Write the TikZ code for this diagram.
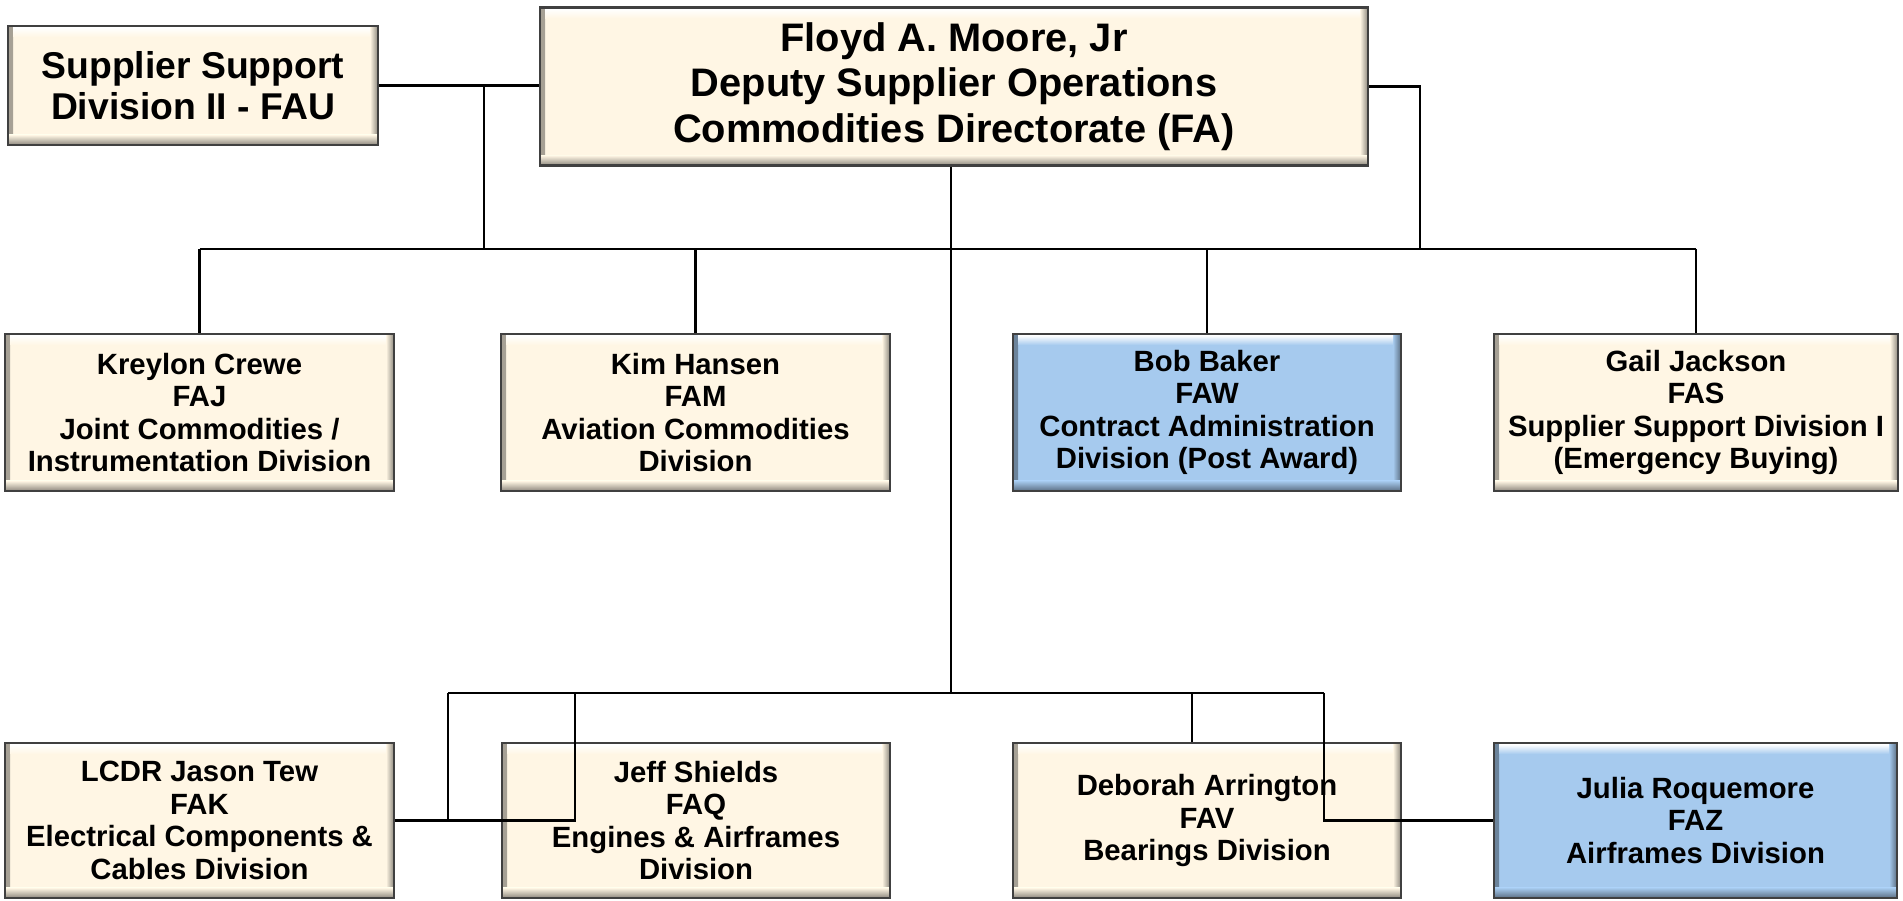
\documentclass[tikz,border=0pt]{standalone}
\usepackage{fontspec}
\setmainfont{Liberation Sans}
\usetikzlibrary{calc}
\definecolor{creamc}{HTML}{FFF6E4}
\definecolor{bluec}{HTML}{A6CAEE}
\definecolor{bdr}{HTML}{404040}
\tikzset{
  orgbox/.style={rectangle, inner sep=0pt, align=center, draw=bdr, line width=2.6pt, fill=#1,
    font=\bfseries\fontsize{29.3}{32.5}\selectfont,
    path picture={
      \shade[left color=#1!65!black, right color=#1]
        (path picture bounding box.south west) rectangle ($(path picture bounding box.north west)+(5pt,0pt)$);
      \shade[left color=#1, right color=#1!55!black]
        ($(path picture bounding box.south east)+(-8pt,0pt)$) rectangle (path picture bounding box.north east);
      \shade[top color=white, bottom color=#1]
        ($(path picture bounding box.north west)+(5pt,-1.5pt)$) rectangle ($(path picture bounding box.north east)+(-8pt,-11pt)$);
      \shade[top color=#1, bottom color=#1!55!black]
        ($(path picture bounding box.south west)+(0pt,10pt)$) rectangle (path picture bounding box.south east);
    }},
  conn/.style={line width=2.1pt, black},
  busline/.style={line width=2.8pt, black},
}
\begin{document}
\begin{tikzpicture}[x=1pt, y=1pt]
\useasboundingbox (0,0) rectangle (1903,901);
% top row
\node[orgbox=creamc, minimum width=828pt, minimum height=158pt,
      font=\bfseries\fontsize{39.8}{45.5}\selectfont] (top) at (954,814.5)
  {Floyd A. Moore, Jr\\Deputy Supplier Operations\\Commodities Directorate (FA)};
\node[orgbox=creamc, minimum width=370pt, minimum height=119pt,
      font=\bfseries\fontsize{37.3}{40.5}\selectfont] (ssd) at (193,815.5)
  {Supplier Support\\Division II - FAU};
% second row
\node[orgbox=creamc, minimum width=389pt, minimum height=157pt] (kc) at (199.5,488.5)
  {Kreylon Crewe\\FAJ\\Joint Commodities /\\Instrumentation Division};
\node[orgbox=creamc, minimum width=389pt, minimum height=157pt] (kh) at (695.5,488.5)
  {Kim Hansen\\FAM\\Aviation Commodities\\Division};
\node[orgbox=bluec, minimum width=388pt, minimum height=157pt] (bb) at (1207,488.5)
  {Bob Baker\\FAW\\Contract Administration\\Division (Post Award)};
\node[orgbox=creamc, minimum width=404pt, minimum height=157pt] (gj) at (1696,488.5)
  {Gail Jackson\\FAS\\Supplier Support Division I\\(Emergency Buying)};
% third row
\node[orgbox=creamc, minimum width=389pt, minimum height=155pt] (lt) at (199.5,80.5)
  {LCDR Jason Tew\\FAK\\Electrical Components \&\\Cables Division};
\node[orgbox=creamc, minimum width=388pt, minimum height=155pt] (js) at (696,80.5)
  {Jeff Shields\\FAQ\\Engines \& Airframes\\Division};
\node[orgbox=creamc, minimum width=388pt, minimum height=155pt] (da) at (1207,80.5)
  {Deborah Arrington\\FAV\\Bearings Division};
\node[orgbox=bluec, minimum width=403pt, minimum height=155pt] (jr) at (1695.5,80.5)
  {Julia Roquemore\\FAZ\\Airframes Division};
% coordinates
\coordinate (ub) at (0,652);
\coordinate (jl) at (484,815.5);
\coordinate (jrt) at (1420,652);
\coordinate (tc) at (951,208);
\coordinate (lb1) at (448,208);
\coordinate (lb2) at (1324,208);
\coordinate (lq) at (575,208);
\coordinate (lv) at (1192,208);
% connectors
\draw[conn] (ssd.east) -- (ssd.east -| top.west);
\draw[conn] (jl) -- (jl |- ub);
\draw[conn] (top.east) -| (jrt);
\draw[busline] (kc.north |- ub) -- (gj.north |- ub);
\draw[conn] (kc.north |- ub) -- (kc.north);
\draw[conn] (kh.north |- ub) -- (kh.north);
\draw[conn] (bb.north |- ub) -- (bb.north);
\draw[conn] (gj.north |- ub) -- (gj.north);
\draw[conn] (top.south -| tc) -- (tc);
\draw[busline] (lb1) -- (lb2);
\draw[conn] (lb1) |- (lt.east);
\draw[conn] (lq) |- (lt.east);
\draw[conn] (lv) -- (lv |- da.north);
\draw[conn] (lb2) |- (jr.west);
\end{tikzpicture}
\end{document}
